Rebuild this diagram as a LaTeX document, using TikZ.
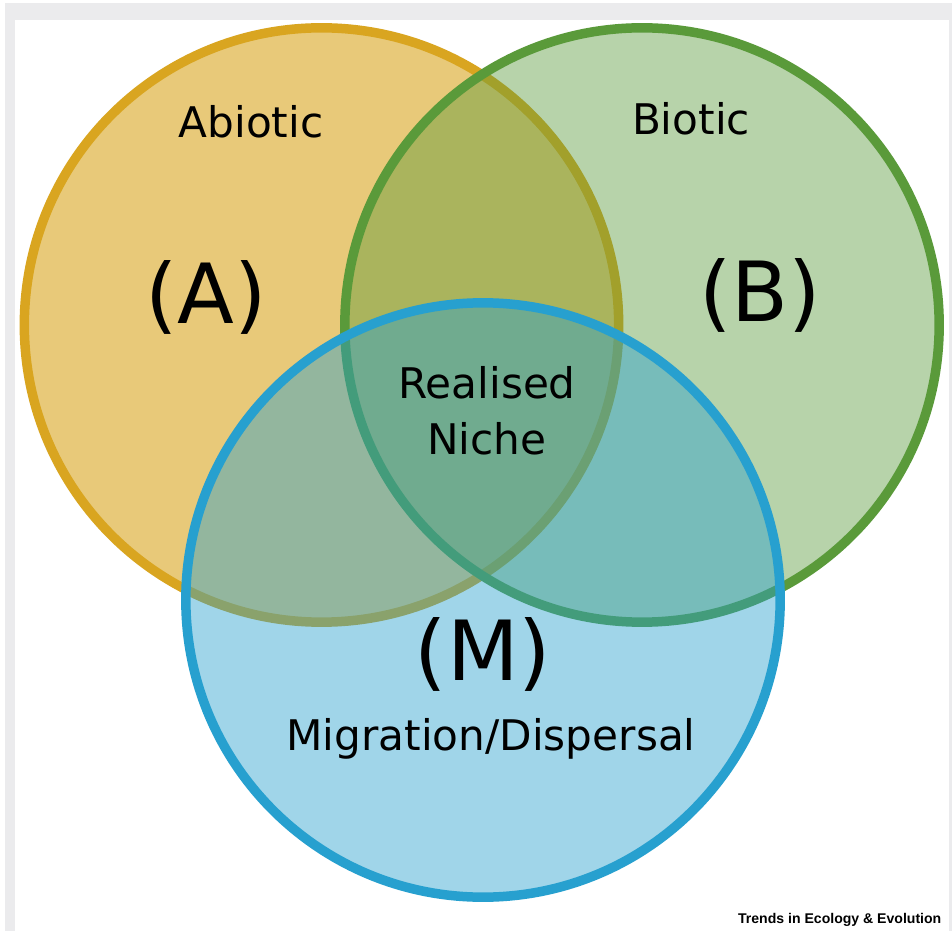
\documentclass[tikz,border=0pt]{standalone}
\usepackage{fontspec}
\setmainfont{DejaVu Sans}
\newfontfamily\tiefont{Liberation Sans}
\definecolor{abioC}{HTML}{D9A520}
\definecolor{bioC}{HTML}{5A9A3A}
\definecolor{migC}{HTML}{27A0CF}
\definecolor{frameC}{HTML}{EBEBED}
\begin{document}
\begin{tikzpicture}[x=0.01cm,y=-0.01cm,
  ring/.style={line width=2.7pt},
  small/.style={font=\fontsize{12pt}{14pt}\selectfont, inner sep=0pt},
  big/.style={font=\fontsize{23.6pt}{26pt}\selectfont, inner sep=0pt}]
\useasboundingbox (0,0) rectangle (952,931);
\fill[frameC] (5,3) rectangle (952,931);
\fill[white] (15,20) rectangle (949,931);
% circles
\fill[abioC, fill opacity=0.6] (321.5,325) circle[radius=2.97cm];
\draw[ring, abioC] (321.5,325) circle[radius=2.97cm];
\fill[bioC, fill opacity=0.43] (642,325) circle[radius=2.97cm];
\draw[ring, bioC] (642,325) circle[radius=2.97cm];
\fill[migC, fill opacity=0.44] (483,600) circle[radius=2.97cm];
\draw[ring, migC] (483,600) circle[radius=2.97cm];
% labels
\node[small] (abiotic) at (251,122) {Abiotic};
\node[small] (biotic) at (691,119) {Biotic};
\node[big] (A) at (206,297) {(A)};
\node[big] (B) at (760,295) {(B)};
\node[small, align=center] (niche) at (487,411) {Realised\\[2pt]Niche};
\node[big] (M) at (483,654) {(M)};
\node[small] (mig) at (491,739) {Migration/Dispersal};
\node[anchor=south east, inner sep=0pt, font=\tiefont\bfseries\fontsize{4pt}{5pt}\selectfont] (tie) at (942,927) {Trends in Ecology \& Evolution};
\end{tikzpicture}
\end{document}
